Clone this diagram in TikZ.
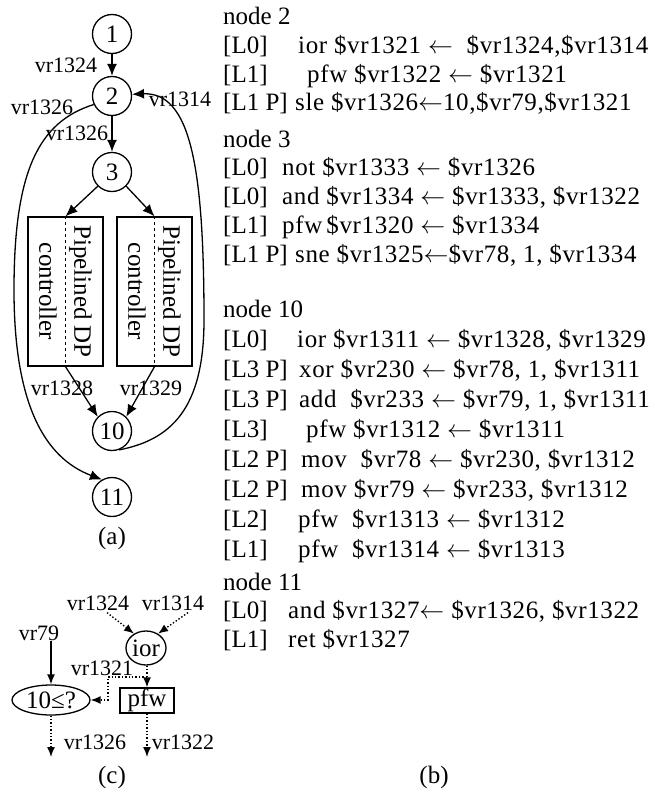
\documentclass[tikz,border=0pt]{standalone}
\usepackage{fontspec}
\setmainfont{Liberation Serif}
\usetikzlibrary{arrows.meta,shapes.geometric}
\newcommand\cl[3]{\makebox[#1][l]{#2}{\addfontfeature{LetterSpace=2.5}#3}}
\newcommand\myla{$\leftarrow$}
\tikzset{
  every node/.style={inner sep=0pt},
  big/.style={font=\fontsize{25}{30}\selectfont},
  lab/.style={font=\fontsize{22}{26}\selectfont},
  code/.style={font=\fontsize{25}{30}\selectfont, anchor=base west},
  cnode/.style={circle, draw, line width=1.3pt, minimum size=39pt, big},
  pbox/.style={rectangle, draw, line width=1.3pt, minimum width=75pt, minimum height=149pt},
  arr/.style={line width=1.3pt, -{Latex[length=12pt,width=10pt]}},
  curve/.style={line width=1.3pt, -{Latex[length=12pt,width=10pt]}},
  darr/.style={line width=1.4pt, dotted, -{Latex[length=10pt,width=8pt]}},
  sarr/.style={line width=1.4pt, -{Latex[length=10pt,width=8pt]}},
}
\begin{document}
\begin{tikzpicture}[x=1pt,y=-1pt]
\useasboundingbox (0,0) rectangle (655,800);
% ---------- (a) ----------
\node[cnode] (n1) at (112,34) {1};
\node[cnode] (n2) at (112,96) {2};
\node[cnode] (n3) at (112,172) {3};
\node[cnode] (n10) at (112,431) {10};
\node[cnode] (n11) at (112,497) {11};
\node[pbox] (bl) at (65.5,291.5) {};
\node[pbox] (br) at (154.5,291.5) {};
\draw[dashed, line width=0.9pt] (bl.north) -- (bl.south);
\draw[dashed, line width=0.9pt] (br.north) -- (br.south);
\node[rotate=-90, align=center, font=\fontsize{25}{35}\selectfont] (tl) at (bl.center) {Pipelined DP\\controller};
\node[rotate=-90, align=center, font=\fontsize{25}{35}\selectfont] (tr) at (br.center) {Pipelined DP\\controller};
\draw[arr] (n1) -- (n2);
\draw[arr] (n2) -- (n3);
\draw[arr] (n3.225) -- (bl.north);
\draw[arr] (n3.-45) -- (br.north);
\draw[arr] (bl.south) -- (n10.135);
\draw[arr] (br.south) -- (n10.45);
\draw[curve] (n2.205) .. controls (38,122) and (14,172) .. (14,290)
   .. controls (14,405) and (45,458) .. (n11.120);
\draw[curve] (n10.-70) .. controls (170,440) and (204,410) .. (204,320)
   .. controls (204,165) and (190,92) .. (n2.5);
\node[lab] (a1324) at (66,65) {vr1324};
\node[lab] (a1326) at (42,107) {vr1326};
\node[lab] (a1314) at (180,99) {vr1314};
\node[lab] (a1326b) at (77,133) {vr1326};
\node[lab] (a1328) at (62,388) {vr1328};
\node[lab] (a1329) at (151,388) {vr1329};
\node[big] (capa) at (112,538) {(a)};
% ---------- (c) ----------
\node[lab] (c1324) at (98,603) {vr1324};
\node[lab] (c1314) at (173,603) {vr1314};
\node[ellipse, draw, line width=1.3pt, minimum width=40pt, minimum height=34pt, big] (ior) at (146,648) {ior};
\node[lab] (c79) at (39,633) {vr79};
\node[ellipse, draw, line width=1.3pt, minimum width=78pt, minimum height=30pt, big] (le) at (51,700) {10≤?};
\node[rectangle, draw, line width=1.3pt, minimum width=54pt, minimum height=25pt, big] (pfw) at (147,700.5) {pfw};
\node[lab] (c1321) at (102,668) {vr1321};
\node[lab] (c1326) at (95,742) {vr1326};
\node[lab] (c1322) at (183,742) {vr1322};
\coordinate (e1) at (51,757);
\coordinate (e2) at (147,757);
\coordinate (sp) at (147,677);
\coordinate (bd) at (108,677);
\draw[darr] ([xshift=9pt,yshift=-2pt]c1324.south) -- (ior.130);
\draw[darr] ([xshift=15pt,yshift=-2pt]c1314.south) -- (ior.50);
\draw[sarr] (le.north |- c79.south) -- (le.north);
\draw[darr] (ior.south -| pfw.north) -- (pfw.north);
\draw[darr] (sp) -- (bd) |- (le.east);
\draw[darr] (le.south) -- (e1);
\draw[darr] (pfw.south) -- (e2);
\node[big] (capc) at (112,777) {(c)};
% ---------- (b) ----------
\node[code] (b1) at (223,25) {node 2};
\node[code] (b2) at (223,53) {\cl{75pt}{[L0]}{ior \$vr1321 \myla\ \ \$vr1324,\$vr1314}};
\node[code] (b3) at (223,82) {\cl{84pt}{[L1]}{pfw \$vr1322 \myla\ \$vr1321}};
\node[code] (b4) at (223,110) {\cl{72pt}{[L1 P]}{sle \$vr1326\myla10,\$vr79,\$vr1321}};
\node[code] (b5) at (223,147) {node 3};
\node[code] (b6) at (223,175) {\cl{59pt}{[L0]}{not \$vr1333 \myla\ \$vr1326}};
\node[code] (b7) at (223,204) {\cl{59pt}{[L0]}{and \$vr1334 \myla\ \$vr1333, \$vr1322}};
\node[code] (b8) at (223,233) {\cl{59pt}{[L1]}{pfw\,\$vr1320 \myla\ \$vr1334}};
\node[code] (b9) at (223,262) {\cl{72pt}{[L1 P]}{sne \$vr1325\myla\$vr78, 1, \$vr1334}};
\node[code] (b10) at (223,317) {node 10};
\node[code] (b11) at (223,347) {\cl{74pt}{[L0]}{ior \$vr1311 \myla\ \$vr1328, \$vr1329}};
\node[code] (b12) at (223,377) {\cl{76pt}{[L3 P]}{xor \$vr230 \myla\ \$vr78, 1, \$vr1311}};
\node[code] (b13) at (223,407) {\cl{76pt}{[L3 P]}{add \ \$vr233 \myla\ \$vr79, 1, \$vr1311}};
\node[code] (b14) at (223,437) {\cl{83pt}{[L3]}{pfw \$vr1312 \myla\ \$vr1311}};
\node[code] (b15) at (223,467) {\cl{78pt}{[L2 P]}{mov \ \$vr78 \myla\ \$vr230, \$vr1312}};
\node[code] (b16) at (223,497) {\cl{78pt}{[L2 P]}{mov \$vr79 \myla\ \$vr233, \$vr1312}};
\node[code] (b17) at (223,527) {\cl{75pt}{[L2]}{pfw \ \$vr1313 \myla\ \$vr1312}};
\node[code] (b18) at (223,557) {\cl{75pt}{[L1]}{pfw \ \$vr1314 \myla\ \$vr1313}};
\node[code] (b19) at (223,590) {node 11};
\node[code] (b20) at (223,618) {\cl{65pt}{[L0]}{and \$vr1327\myla\ \$vr1326, \$vr1322}};
\node[code] (b21) at (223,647) {\cl{65pt}{[L1]}{ret \$vr1327}};
\node[big] (capb) at (434,777) {(b)};
\end{tikzpicture}
\end{document}
